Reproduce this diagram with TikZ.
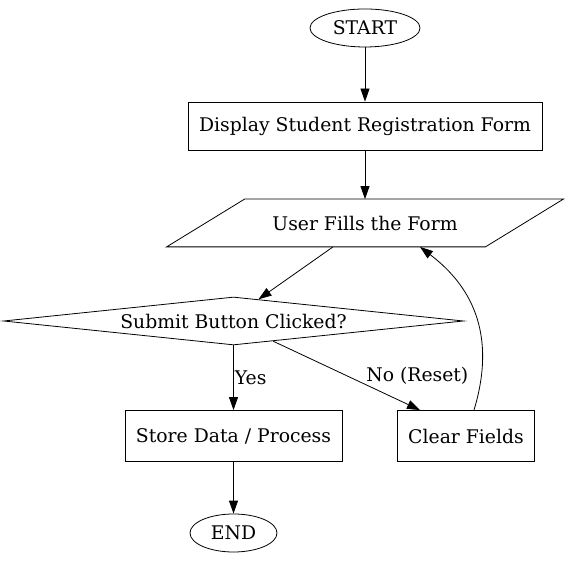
\documentclass[tikz,border=0pt]{standalone}
\usepackage{fontspec}
\setmainfont{DejaVu Serif}
\usetikzlibrary{shapes.geometric,arrows.meta,positioning}

\begin{document}
\begin{tikzpicture}[x=1pt, y=1pt, line width=0.8pt, >={Triangle[length=13pt,width=9pt]},
  every node/.style={font=\fontsize{18.8}{22}\selectfont},
  term/.style={draw, ellipse, inner sep=0pt, minimum height=38pt},
  proc/.style={draw, rectangle, inner sep=0pt},
  io/.style={inner sep=0pt, minimum width=240pt, minimum height=47pt},
  decide/.style={draw, diamond, aspect=9.6, inner sep=0pt,
    minimum width=460pt, minimum height=48pt},
  flow/.style={->}]
\useasboundingbox (0,0) rectangle (569,564);
\node [term, minimum width=110pt] (start) at (365,536) {START};
\node [proc, minimum width=354pt, minimum height=48pt] (display) at (365,438) {Display Student Registration Form};
\node [io] (fill) at (365,341) {User Fills the Form};
\draw ([xshift=-78pt]fill.south west) -- (fill.south east) -- ([xshift=78pt]fill.north east) -- (fill.north west) -- cycle;
\node [decide] (submit) at (233.5,243) {Submit Button Clicked?};
\node [proc, minimum width=217pt, minimum height=51pt] (store) at (233.5,128) {Store Data / Process};
\node [proc, minimum width=137pt, minimum height=51pt] (clear) at (466,128) {Clear Fields};
\node [term, minimum width=87pt] (end) at (233.5,31) {END};

\draw [flow] (start) -- (display);
\draw [flow] (display) -- (fill);
\draw [flow] ([xshift=-32pt]fill.south) -- (submit.41);
\draw [flow] (submit.south) -- node [right, inner sep=1pt] {Yes} (store.north);
\draw [flow] (submit.-27) -- node [anchor=west, xshift=16pt] {No (Reset)} ([xshift=-46pt]clear.north);
\draw [flow] ([xshift=8pt]clear.north) .. controls (500,240) and (462,285) .. ([xshift=55pt]fill.south);
\draw [flow] (store) -- (end);
\end{tikzpicture}
\end{document}
